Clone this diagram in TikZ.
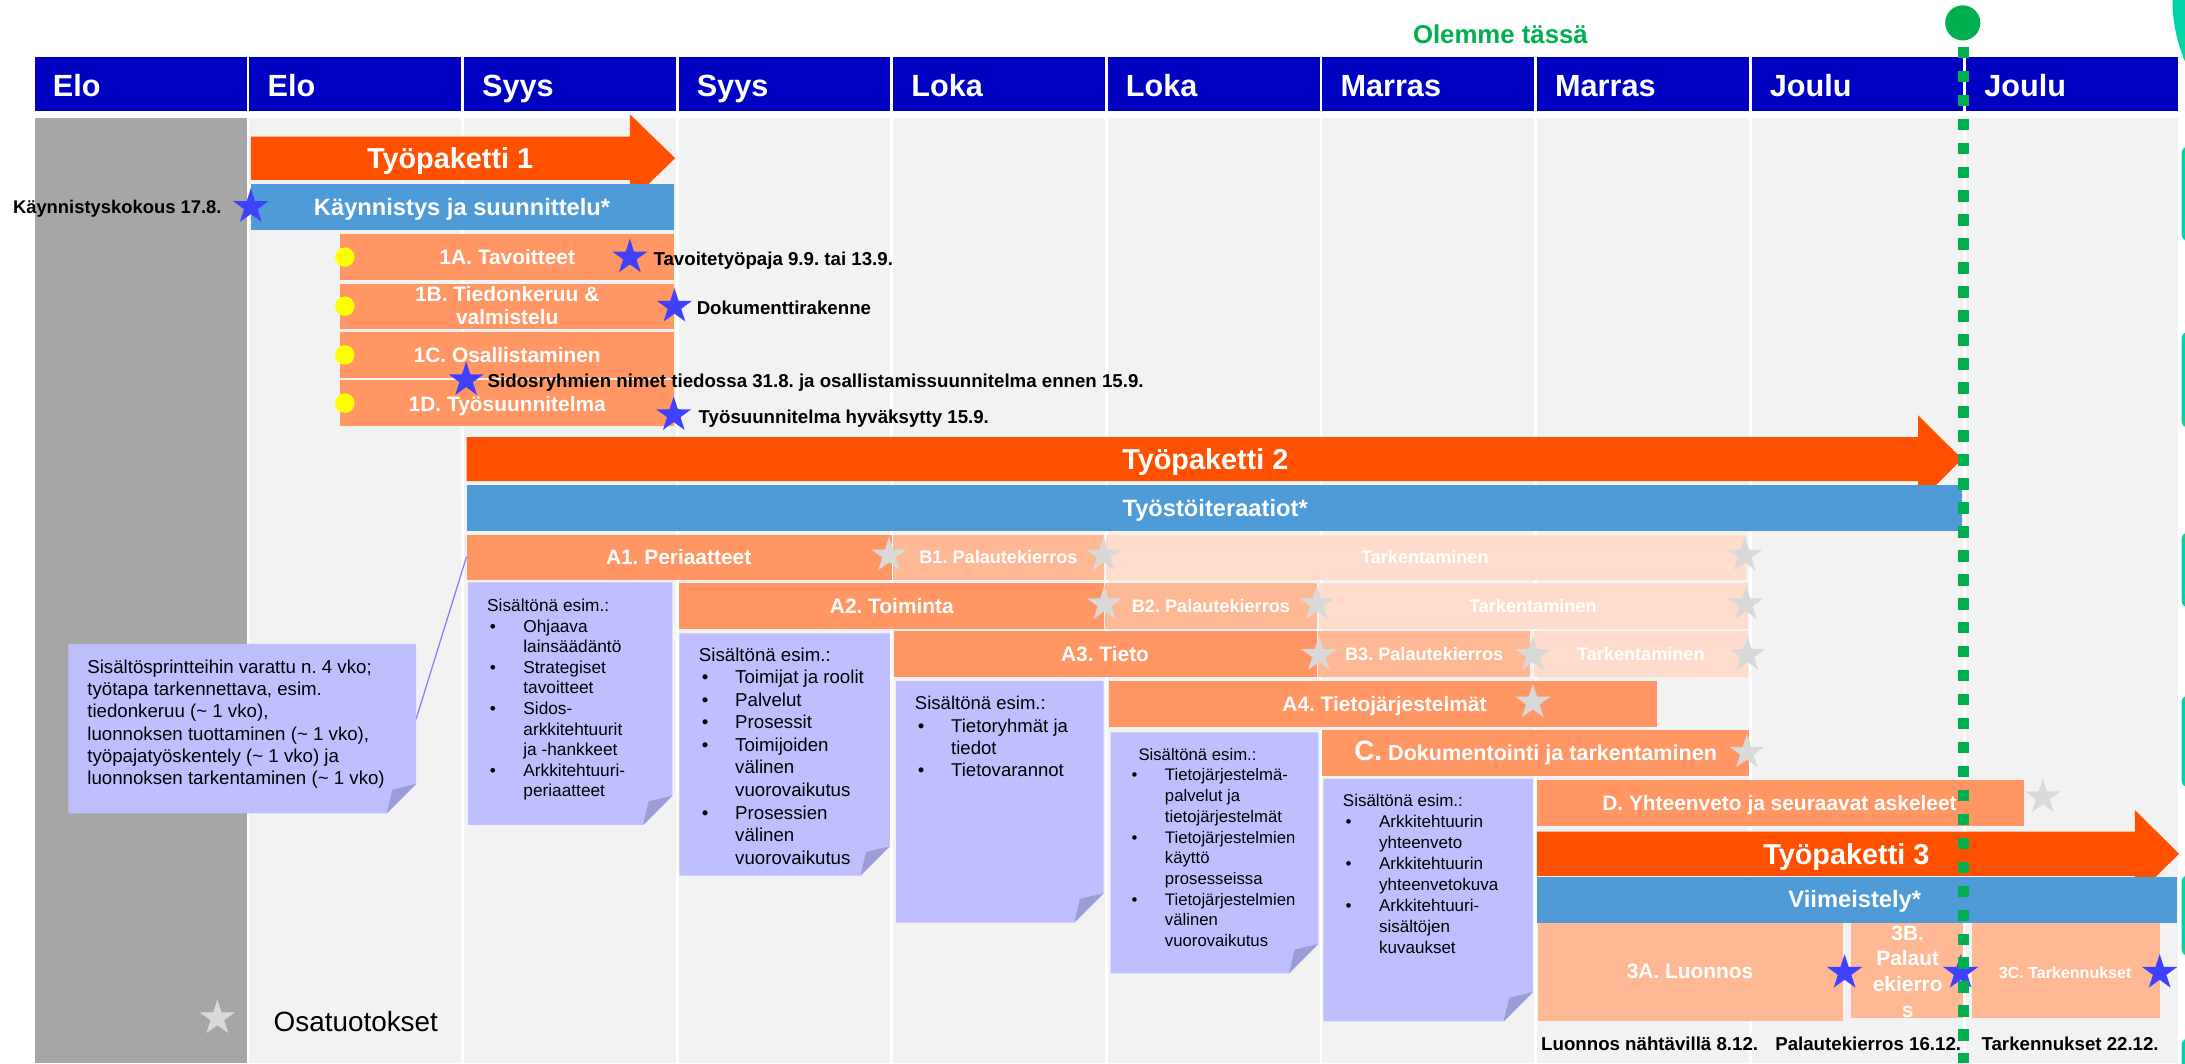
\documentclass[tikz,border=0pt]{standalone}
\usepackage{fontspec}
\setmainfont{Liberation Sans}
\usetikzlibrary{shapes.geometric}
\frenchspacing
\definecolor{hdrblue}{HTML}{0000C0}
\definecolor{wporange}{HTML}{FF5000}
\definecolor{barblue}{HTML}{4E9BD8}
\definecolor{salA}{HTML}{FF9664}
\definecolor{salB}{HTML}{FFB894}
\definecolor{salC}{HTML}{FFDCCB}
\definecolor{notefill}{HTML}{BFBFFF}
\definecolor{notefold}{HTML}{9C9CD6}
\definecolor{bgcol}{HTML}{F2F2F2}
\definecolor{darkcol}{HTML}{A6A6A6}
\definecolor{starblue}{HTML}{4040FF}
\definecolor{stargray}{HTML}{D9D9D9}
\definecolor{nowgreen}{HTML}{00B050}
\definecolor{tealc}{HTML}{00D3A8}
\definecolor{dotyellow}{HTML}{FFFF00}
\definecolor{linkblue}{HTML}{8080FF}

\newcommand\notebox[4]{%
  \fill[notefill] (#1,#2) -- (#3,#2) -- (#3,#4-21) -- (#3-21,#4) -- (#1,#4) -- cycle;
  \fill[notefold] (#3,#4-21) -- (#3-21,#4) -- (#3-17,#4-17) -- cycle;}
\newcommand\nbul{\hspace*{2pt}\makebox[24pt][l]{•}}
\newcommand\ncont{\hspace*{26pt}}

\tikzset{
 every node/.style={inner sep=0pt, outer sep=0pt},
 cl/.style={anchor=base, yshift={-0.358*#1pt}, text=white, font=\bfseries\fontsize{#1}{#1}\selectfont},
 ll/.style={anchor=base west, yshift={-0.358*#1pt}, font=\bfseries\fontsize{#1}{#1}\selectfont},
 rl/.style={anchor=base east, yshift={-0.358*#1pt}, font=\bfseries\fontsize{#1}{#1}\selectfont},
 hl/.style={ll=22, text=white},
 bstar/.style={star, star points=5, star point ratio=2.6, minimum size=26.5pt, fill=starblue},
 gstar/.style={bstar, fill=stargray},
 ntext/.style={anchor=north west, align=left, text=black},
}

\begin{document}
\begin{tikzpicture}[x=1pt,y=-1pt]
\useasboundingbox (0,0) rectangle (1568,763);
\begin{scope}
\clip (0,0) rectangle (1568,763);
\fill[white] (0,0) rectangle (1568,763);
% columns and header
\foreach \i in {0,...,9} {
  \pgfmathsetmacro\xa{25+154*\i}
  \pgfmathsetmacro\xb{\xa+152}
  \fill[hdrblue] (\xa,41) rectangle (\xb,80);
  \fill[bgcol] (\xa,85) rectangle (\xb,763);
}
\fill[darkcol] (25,85) rectangle (177,763);
\node[hl] (h0) at (38,61.5) {Elo};
\node[hl] (h1) at (192,61.5) {Elo};
\node[hl] (h2) at (346,61.5) {Syys};
\node[hl] (h3) at (500,61.5) {Syys};
\node[hl] (h4) at (654,61.5) {Loka};
\node[hl] (h5) at (808,61.5) {Loka};
\node[hl] (h6) at (962,61.5) {Marras};
\node[hl] (h7) at (1116,61.5) {Marras};
\node[hl] (h8) at (1270,61.5) {Joulu};
\node[hl] (h9) at (1424,61.5) {Joulu};
\node[ll=18.5, text=nowgreen] (now) at (1014,24.3) {Olemme tässä};

% teal pieces at right edge
\fill[tealc] (1671,0) circle (112);
\foreach \ya/\yb in {105/173, 238/307, 382/436, 499/565, 628/686, 745/800}
  \fill[tealc, rounded corners=5] (1565.5,\ya) rectangle (1600,\yb);

% ---------- Tyopaketti 1
\fill[wporange] (180,98) -- (452,98) -- (452,82) -- (484.5,113.5) -- (452,145) -- (452,129) -- (180,129) -- cycle;
\node[cl=20.7] (tp1) at (323,113.5) {Työpaketti 1};
\fill[barblue] (180,132) rectangle (484,165);
\node[cl=17] (kay) at (331.6,148.5) {Käynnistys ja suunnittelu*};
\node[bstar] (s0) at (180,148.5) {};
\node[rl=13.2] (kk) at (159,148.5) {Käynnistyskokous 17.8.};

\fill[salA] (244,168) rectangle (484,201);
\fill[salA] (244,203.5) rectangle (484,236);
\fill[salA] (244,238.5) rectangle (484,271);
\fill[salA] (244,273) rectangle (484,305.6);
\foreach \yy in {184.5,219.7,254.7,289.3} \fill[dotyellow] (247.5,\yy) circle (7);
\node[cl=15] (r1a) at (364,184.5) {1A. Tavoitteet};
\node[cl=15] (r1b) at (364,211.3) {1B. Tiedonkeruu \&};
\node[cl=15] (r1b2) at (364,227.5) {valmistelu};
\node[cl=15] (r1c) at (364,254.7) {1C. Osallistaminen};
\node[cl=15] (r1d) at (364,290) {1D. Työsuunnitelma};
\node[bstar] (s1) at (452,184.6) {};
\node[bstar] (s2) at (484,220) {};
\node[bstar] (s3) at (334.5,272.7) {};
\node[bstar] (s4) at (483.5,297.8) {};
\node[ll=13.4] (m1) at (469,186) {Tavoitetyöpaja 9.9. tai 13.9.};
\node[ll=13.4] (m2) at (500,221) {Dokumenttirakenne};
\node[ll=13.4] (m3) at (350,273.5) {Sidosryhmien nimet tiedossa 31.8. ja osallistamissuunnitelma ennen 15.9.};
\node[ll=13.4] (m4) at (501.4,299) {Työsuunnitelma hyväksytty 15.9.};

% ---------- Tyopaketti 2
\fill[wporange] (334.8,313.6) -- (1376.5,313.6) -- (1376.5,298) -- (1408,329.4) -- (1376.5,360.8) -- (1376.5,345.2) -- (334.8,345.2) -- cycle;
\node[cl=20.7] (tp2) at (865,329.4) {Työpaketti 2};
\fill[barblue] (334.8,348) rectangle (1408,381);
\node[cl=17] (tyo) at (872,364.5) {Työstöiteraatiot*};

\fill[salA] (334.8,384) rectangle (639.8,416.5);
\fill[salB] (640.6,384) rectangle (792.5,416.5);
\fill[salC] (793.6,384) rectangle (1252.7,416.5);
\fill[salA] (487.6,418.5) rectangle (792.3,451.5);
\fill[salB] (793.2,418.5) rectangle (945,451.5);
\fill[salC] (946.3,418.5) rectangle (1254.5,451.5);
\fill[salA] (641.4,453) rectangle (945.3,486);
\fill[salB] (945.6,453) rectangle (1098,486);
\fill[salC] (1101,453) rectangle (1254.6,486);
\fill[salA] (795.8,488.7) rectangle (1189,521.5);
\fill[salA] (949,524) rectangle (1255,556.6);
\fill[salA] (1102.8,559.7) rectangle (1452.5,592.5);

\node[cl=15] (a1) at (487,400) {A1. Periaatteet};
\node[cl=13] (b1) at (716.5,400) {B1. Palautekierros};
\node[cl=13] (k1) at (1022.5,400) {Tarkentaminen};
\node[cl=15] (a2) at (640,435) {A2. Toiminta};
\node[cl=13] (b2) at (869,435) {B2. Palautekierros};
\node[cl=13] (k2) at (1100,435) {Tarkentaminen};
\node[cl=15] (a3) at (793,469.5) {A3. Tieto};
\node[cl=13] (b3) at (1022,469.5) {B3. Palautekierros};
\node[cl=13] (k3) at (1177.5,469.5) {Tarkentaminen};
\node[cl=15] (a4) at (993.5,505) {A4. Tietojärjestelmät};
\node[cl=15.5] (cc) at (1102,540.3) {{\fontsize{20}{20}\selectfont C.} Dokumentointi ja tarkentaminen};
\node[cl=15] (dd) at (1277,576) {D. Yhteenveto ja seuraavat askeleet};

\node[gstar] (g1) at (638,398.5) {};
\node[gstar] (g2) at (792,398.5) {};
\node[gstar] (g3) at (1252,398.5) {};
\node[gstar] (g4) at (792.5,433.5) {};
\node[gstar] (g5) at (945,433.5) {};
\node[gstar] (g6) at (1253,433.5) {};
\node[gstar] (g7) at (946.5,470) {};
\node[gstar] (g8) at (1100,470) {};
\node[gstar] (g9) at (1254,470) {};
\node[gstar] (g10) at (1100,504) {};
\node[gstar] (g11) at (1253.6,540) {};
\node[gstar] (g12) at (1466,572) {};

% ---------- notes
\coordinate (lnA) at (334.8,399.5);
\coordinate (lnB) at (298.6,516);
\draw[linkblue, line width=0.9pt] (lnA) -- (lnB);
\notebox{49}{462}{298.6}{583.6}
\notebox{336}{418}{482.5}{592}
\notebox{487.6}{454.5}{638.5}{628.4}
\notebox{643}{488.7}{792}{662}
\notebox{797}{525.5}{946}{698.5}
\notebox{949.6}{559}{1100}{733}

\node[ntext, font=\fontsize{13.4}{16}\selectfont] (t0) at (62.7,473.4) {Sisältösprintteihin varattu n. 4 vko;\\työtapa tarkennettava, esim.\\tiedonkeruu (\textasciitilde{} 1 vko),\\luonnoksen tuottaminen (\textasciitilde{} 1 vko),\\työpajatyöskentely (\textasciitilde{} 1 vko) ja\\luonnoksen tarkentaminen (\textasciitilde{} 1 vko)};
\node[ntext, font=\fontsize{12.4}{14.75}\selectfont] (t1) at (349.6,430) {Sisältönä esim.:\\\nbul Ohjaava\\\ncont lainsäädäntö\\\nbul Strategiset\\\ncont tavoitteet\\\nbul Sidos-\\\ncont arkkitehtuurit\\\ncont ja -hankkeet\\\nbul Arkkitehtuuri-\\\ncont periaatteet};
\node[ntext, font=\fontsize{13.4}{16.2}\selectfont] (t2) at (501.6,464.7) {Sisältönä esim.:\\\nbul Toimijat ja roolit\\\nbul Palvelut\\\nbul Prosessit\\\nbul Toimijoiden\\\ncont välinen\\\ncont vuorovaikutus\\\nbul Prosessien\\\ncont välinen\\\ncont vuorovaikutus};
\node[ntext, font=\fontsize{13.3}{16}\selectfont] (t3) at (656.6,499.7) {Sisältönä esim.:\\\nbul Tietoryhmät ja\\\ncont tiedot\\\nbul Tietovarannot};
\node[ntext, font=\fontsize{12}{14.85}\selectfont] (t4) at (810,536.9) {\hspace*{7pt}Sisältönä esim.:\\\nbul Tietojärjestelmä-\\\ncont palvelut ja\\\ncont tietojärjestelmät\\\nbul Tietojärjestelmien\\\ncont käyttö\\\ncont prosesseissa\\\nbul Tietojärjestelmien\\\ncont välinen\\\ncont vuorovaikutus};
\node[ntext, font=\fontsize{12.2}{15}\selectfont] (t5) at (963.7,570.1) {Sisältönä esim.:\\\nbul Arkkitehtuurin\\\ncont yhteenveto\\\nbul Arkkitehtuurin\\\ncont yhteenvetokuva\\\nbul Arkkitehtuuri-\\\ncont sisältöjen\\\ncont kuvaukset};

% ---------- Tyopaketti 3
\fill[wporange] (1102.8,596.8) -- (1532,596.8) -- (1532,581.3) -- (1563.7,612.7) -- (1532,644.1) -- (1532,628.6) -- (1102.8,628.6) -- cycle;
\node[cl=20.7] (tp3) at (1325,612.7) {Työpaketti 3};
\fill[barblue] (1102.8,629) rectangle (1562,662);
\node[cl=17] (vii) at (1331,645.5) {Viimeistely*};
\fill[salB] (1103.7,662.5) rectangle (1322.6,733);
\fill[salB] (1328,662.5) rectangle (1408.7,730.6);
\fill[salB] (1414.8,662.5) rectangle (1550,730.6);
\node[cl=15] (l3a) at (1212.8,697) {3A. Luonnos};
\node[anchor=north, align=center, text=white, font=\bfseries\fontsize{15}{18.5}\selectfont] (l3b) at (1369,664.2) {3B.\\Palaut\\ekierro\\s};
\node[cl=11.5] (l3c) at (1482,698) {3C. Tarkennukset};
\node[bstar] (s5) at (1323.7,698) {};
\node[bstar] (s6) at (1407,698) {};
\node[bstar] (s7) at (1549.8,698) {};
\node[ll=13.4] (bl1) at (1106,748.7) {Luonnos nähtävillä 8.12.};
\node[ll=13.4] (bl2) at (1274,748.7) {Palautekierros 16.12.};
\node[ll=13.4] (bl3) at (1422,748.7) {Tarkennukset 22.12.};

% legend
\node[gstar] (gl) at (156,730.6) {};
\node[anchor=base west, yshift=-7.16pt, font=\fontsize{20}{20}\selectfont] (leg) at (196.4,733) {Osatuotokset};

% now line
\coordinate (nowtop) at (1409,33.5);
\coordinate (nowbot) at (1409,763);
\draw[nowgreen, line width=7.5pt, dash pattern=on 8.3pt off 8.9pt] (nowtop) -- (nowbot);
\fill[nowgreen] (1408.5,16.4) circle (12.6);
\end{scope}
\end{tikzpicture}
\end{document}
